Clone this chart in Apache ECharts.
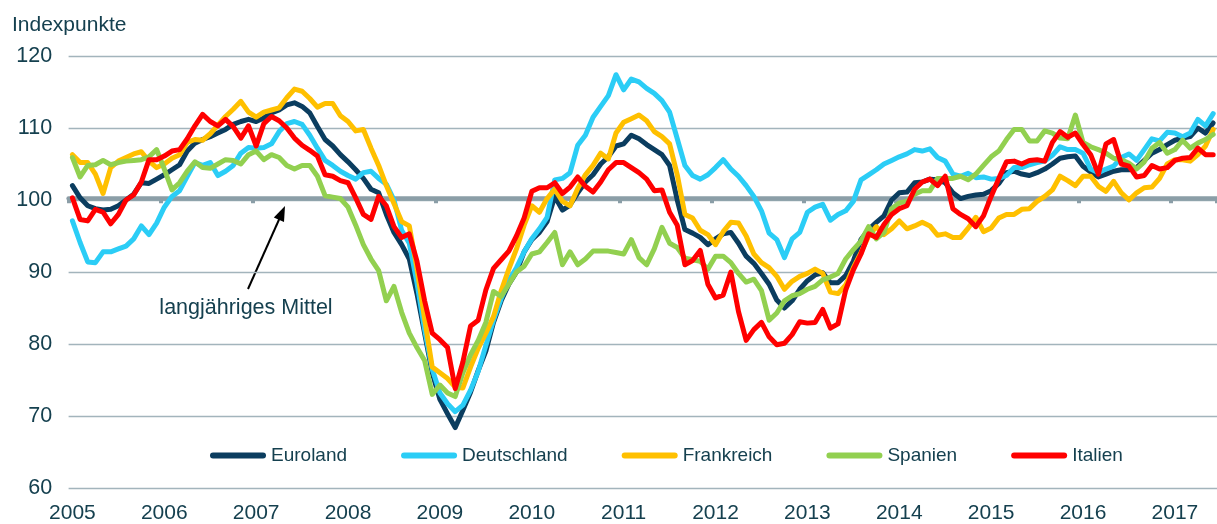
<!DOCTYPE html>
<html>
<head>
<meta charset="utf-8">
<style>
	html, body {
		margin: 0;
		padding: 0;
		background: #ffffff;
	}

	#main {
		width: 1217px;
		height: 524px;
	}
</style>
</head>
<body>
<div id="main"></div>
<script src="https://cdn.jsdelivr.net/npm/echarts@6/dist/echarts.min.js"></script>
<script>
	// Jahre der x-Achse, Monate Jan 2005 bis Jun 2017
	var years = ['2005', '2006', '2007', '2008', '2009', '2010', '2011', '2012', '2013', '2014', '2015', '2016', '2017'];
	var yTicks = [60, 70, 80, 90, 100, 110, 120];
	var seriesNames = ['Euroland', 'Deutschland', 'Frankreich', 'Spanien', 'Italien'];

	var euroland = [
		102, 100.3, 99.2, 98.8, 98.6, 98.7, 99.2, 100, 100.8, 102.4, 102.3, 102.9,
		103.5, 104.2, 104.9, 106.8, 107.9, 108.4, 108.8, 109.3, 109.8, 110.5, 110.9, 111.2,
		110.9, 111.4, 112.1, 112.5, 113.2, 113.5, 113, 112.1, 110.2, 108.4, 107.5, 106.3,
		105.3, 104.2, 103, 101.5, 101, 98, 95.5, 93.8, 91.8, 87, 81.5, 76,
		72.3, 70.3, 68.4, 70.8, 73.3, 76.3, 79, 83, 86, 88.3, 90, 92.8,
		94.5, 95.5, 97, 100.5, 98.6, 99.3, 101, 102.5, 103.5, 105, 106, 107.5,
		107.8, 109, 108.5, 107.7, 107, 106.3, 104.8, 100, 95.9, 95.4, 94.8, 93.8,
		94.6, 95.3, 95.5, 94, 92.2, 91.2, 89.8, 88.3, 86.1, 85, 86, 87.6,
		88.8, 89.6, 89.9, 88.5, 88.5, 89.5, 91.5, 94.5, 95.9, 96.9, 97.8, 100,
		101, 101.1, 102.4, 102.5, 102.9, 102.8, 102.4, 101, 100.2, 100.5, 100.7, 100.8,
		101.3, 102.3, 103.8, 104, 103.6, 103.4, 103.8, 104.3, 105, 105.8, 106, 106.1,
		104.7, 103.9, 103.2, 103.6, 104, 104.2, 104.2, 104.5, 105.5, 106.5, 107, 107.7,
		108.3, 108.6, 108.8, 110, 109.3, 110.7
	];

	var deutschland = [
		97.1, 94.1, 91.4, 91.3, 92.8, 92.8, 93.2, 93.6, 94.6, 96.4, 95.2, 96.8,
		99, 100.5, 101.3, 103.3, 105.2, 104.8, 105.2, 103.4, 104, 104.8, 106.5, 107.3,
		107.2, 107.3, 107.8, 109.5, 110.6, 110.9, 110.5, 109, 107.2, 105.5, 104.8, 104,
		103.4, 102.9, 103.8, 104, 103, 102.2, 100, 95.8, 94, 88.5, 82, 76.5,
		73.2, 71.7, 70.6, 71.5, 73.6, 76.2, 79.8, 83.3, 86.3, 88.8, 90.6, 92.8,
		94.6, 96, 97.6, 102.8, 103, 103.8, 107.6, 109, 111.5, 113, 114.5, 117.4,
		115.3, 116.8, 116.4, 115.5, 114.8, 113.8, 112.2, 108.5, 104.8, 103.4, 102.9, 103.5,
		104.5, 105.6, 104.3, 103.3, 102, 100.5, 98.5, 95.4, 94.5, 92, 94.6, 95.5,
		98.3, 99, 99.4, 97.2, 98, 98.5, 99.8, 102.8, 103.5, 104.2, 105, 105.5,
		106, 106.4, 107, 106.8, 107.1, 105.9, 105.4, 103.6, 103.3, 103.7, 103.1, 103.2,
		102.9, 103, 103.4, 104.5, 104.5, 104.9, 105.2, 105.4, 106.2, 107.4, 107, 107,
		106.5, 104.3, 103.8, 104.3, 104.7, 105.9, 106.4, 105.5, 107, 108.5, 108.2, 109.4,
		109.3, 108.8, 109.3, 111.2, 110.3, 112
	];

	var frankreich = [
		106.3, 105.2, 105.2, 103.6, 100.9, 104.5, 105.4, 105.9, 106.4, 106.7, 105.4, 104.5,
		105, 105.8, 106.3, 108, 108.4, 108.3, 109.2, 110.4, 111.6, 112.6, 113.7, 112.2,
		111.5, 112.2, 112.5, 112.8, 114.2, 115.4, 115.1, 114.1, 112.9, 113.4, 113.4, 111.7,
		110.9, 109.6, 109.8, 107.2, 104.8, 102, 99.5, 97, 96.4, 90.5, 83.5, 76.8,
		76, 75.2, 74, 73.9, 76.8, 79.4, 81.5, 83.8, 87.4, 90.4, 93.2, 96.5,
		99.2, 98.3, 100.2, 101.5, 99.8, 99.2, 101.6, 103.5, 104.8, 106.5, 105.7, 109.3,
		110.8, 111.3, 111.8, 111, 109.5, 108.8, 107.8, 103.5, 98, 97.5, 95.8, 95.2,
		93.8, 95.6, 96.9, 96.8, 95, 92.5, 91.3, 90.6, 89.4, 87.6, 88.7, 89.4,
		89.8, 90.4, 89.8, 87.2, 87, 88.2, 90.6, 92.7, 95, 96.3, 95.2, 96,
		97.1, 96, 96.4, 96.9, 96.4, 95.1, 95.3, 94.8, 94.8, 96.1, 97.6, 95.6,
		96.1, 97.5, 98, 98, 98.7, 98.8, 99.8, 100.5, 101.4, 103.3, 102.7, 102,
		103.3, 103.3, 101.9, 101.2, 102.6, 101, 100, 101, 101.7, 101.8, 103, 105,
		105.6, 105.6, 105.4, 106.3, 107.5, 109.8
	];

	var spanien = [
		105.9, 103.2, 104.8, 104.9, 105.5, 104.9, 105.2, 105.4, 105.5, 105.6, 106, 107,
		104.3, 101.4, 102.4, 104, 105.3, 104.5, 104.4, 105, 105.6, 105.5, 105, 106.3,
		106.8, 105.6, 106.3, 105.9, 104.8, 104.3, 104.8, 104.8, 103.3, 100.6, 100.4, 100.2,
		99, 96.5, 93.8, 91.8, 90.2, 86, 88, 84.4, 81.5, 79.5, 77.7, 73,
		74.3, 73.2, 72.7, 76, 78.5, 80.5, 83, 87.3, 86.6, 88.3, 90, 90.8,
		92.5, 92.8, 94.1, 95.5, 91, 92.8, 91, 91.8, 92.9, 92.9, 92.9, 92.7,
		92.5, 94.5, 92, 91, 93.2, 96.2, 94, 93.4, 91.9, 91.7, 91.5, 90.4,
		92.2, 92.2, 91.3, 89.8, 88.6, 89, 87.4, 83.3, 84.3, 86, 86.7, 87,
		87.6, 88, 88.9, 89.3, 89.8, 91.8, 93.1, 94.3, 96.3, 94.6, 95.5, 98.8,
		99.6, 99.8, 100.8, 101.3, 101.3, 103, 103, 103, 103.3, 102.8, 103.6, 104.8,
		106, 106.8, 108.4, 109.8, 109.8, 108.2, 108.2, 109.6, 109.3, 108.6, 108.5, 111.8,
		108, 107.4, 107, 106.5, 105.8, 105.6, 105.1, 104.3, 105.3, 107.2, 108, 106.5,
		107, 108.3, 107.2, 107.9, 108.4, 109.1
	];

	var italien = [
		100.3, 97.3, 97.1, 98.7, 98.3, 96.7, 98, 100, 100.7, 102.5, 105.6, 105.6,
		106.1, 106.8, 107, 108.5, 110.3, 111.9, 110.9, 110.3, 111.2, 110.2, 108.6, 110.3,
		107.5, 110.6, 111.6, 111, 110, 108.6, 107.6, 106.9, 106.1, 103.5, 103.3, 102.7,
		102.4, 100.3, 98, 97.3, 100.5, 99.2, 96.3, 94.8, 95.3, 91.5, 86, 81.5,
		80.6, 79.5, 73.8, 77.5, 82.5, 83.3, 87.5, 90.5, 91.7, 92.9, 95, 97.5,
		101.2, 101.7, 101.7, 102.4, 100.9, 101.8, 103.2, 101.9, 101.1, 102.5, 104.2, 105.2,
		105.2, 104.5, 103.8, 102.9, 101.3, 101.4, 98.3, 96.5, 91, 91.6, 93, 88.3,
		86.4, 86.8, 90, 84.5, 80.5, 82, 83, 81, 79.9, 80.1, 81.3, 83.1,
		82.9, 83, 84.8, 82.2, 82.8, 87.5, 90.3, 92.5, 95.3, 94.8, 96.6, 98,
		98.8, 99.2, 101.5, 102.5, 102.9, 102, 103.3, 98.8, 98, 97.4, 96.3, 97.8,
		100.5, 103, 105.3, 105.4, 105, 105.5, 105.6, 105.4, 108, 109.5, 108.7, 109.3,
		107.7, 106.3, 103.6, 107.8, 108.4, 105, 104.7, 103.2, 103.4, 104.8, 104.3, 104.5,
		105.5, 105.8, 105.9, 107.2, 106.3, 106.3
	];

	var colors = ['#0b3d5f', '#2bcdf6', '#ffc000', '#92d050', '#ff0000'];

	// Monatskategorien aufbauen
	var months = [];
	for (var i = 0; i < euroland.length; i++) {
		var m = i % 12 + 1;
		months.push(years[Math.floor(i / 12)] + '-' + (m < 10 ? '0' + m : m));
	}

	var textColor = '#15404f';
	var font = 'Liberation Sans, Arial, sans-serif';
	var isYearStart = function (idx) { return idx % 12 === 0; };

	var myChart = echarts.init(document.getElementById('main'));

	var lineSeries = [euroland, deutschland, frankreich, spanien, italien].map(function (d, k) {
		return {
			name: seriesNames[k],
			type: 'line',
			data: d,
			symbol: 'none',
			smooth: false,
			z: 3 + k,
			lineStyle: {
				width: 5,
				color: colors[k],
				cap: 'round',
				join: 'round'
			}
		};
	});

	var option = {
		animation: false,
		color: colors,
		textStyle: {
			fontFamily: font
		},
		grid: {
			left: 68.6,
			right: -4.1,
			top: 56,
			bottom: 33.5
		},
		legend: {
			data: seriesNames,
			left: 205,
			top: 441,
			itemWidth: 56,
			itemHeight: 6,
			itemGap: 54,
			icon: 'path://M3,0 L53,0 A3,3 0 0 1 53,6 L3,6 A3,3 0 0 1 3,0 Z',
			textStyle: {
				fontSize: 19,
				color: textColor,
				fontFamily: font
			}
		},
		xAxis: [{
			type: 'category',
			data: months,
			boundaryGap: true,
			axisLine: { show: false },
			axisTick: { show: false },
			splitLine: { show: false },
			axisLabel: {
				interval: isYearStart,
				formatter: function (v) { return v.slice(0, 4); },
				margin: 15,
				fontSize: 21,
				color: textColor,
				fontFamily: font
			}
		}, {
			// Linie des langjährigen Mittels bei 100 mit Jahresstrichen
			type: 'category',
			data: months,
			boundaryGap: true,
			position: 'bottom',
			offset: -289.8,
			axisLine: {
				show: true,
				lineStyle: { color: '#8b9ea7', width: 4.5 }
			},
			axisTick: {
				show: true,
				interval: isYearStart,
				length: 5,
				lineStyle: { color: '#8b9ea7', width: 4 }
			},
			axisLabel: { show: false },
			splitLine: { show: false }
		}],
		yAxis: {
			type: 'value',
			min: yTicks[0],
			max: yTicks[yTicks.length - 1],
			interval: 10,
			axisLine: { show: false },
			axisTick: { show: false },
			axisLabel: {
				margin: 16.5,
				fontSize: 21.5,
				color: textColor,
				fontFamily: font
			},
			splitLine: {
				lineStyle: { color: '#a3b4bc', width: 1.3 }
			}
		},
		graphic: [{
			type: 'text',
			left: 12,
			top: 15,
			style: {
				text: 'Indexpunkte',
				fill: textColor,
				fontSize: 21,
				fontFamily: font
			}
		}, {
			type: 'text',
			x: 246,
			y: 308,
			style: {
				text: 'langjähriges Mittel',
				fill: textColor,
				fontSize: 21.5,
				fontFamily: font,
				align: 'center',
				verticalAlign: 'middle'
			}
		}, {
			type: 'line',
			shape: { x1: 248, y1: 289, x2: 279.5, y2: 218.5 },
			style: { stroke: '#000000', lineWidth: 2 }
		}, {
			type: 'polygon',
			shape: { points: [[285, 206], [284, 222], [273.8, 217.5]] },
			style: { fill: '#000000' }
		}],
		series: lineSeries
	};

	myChart.setOption(option);
</script>
</body>
</html>
